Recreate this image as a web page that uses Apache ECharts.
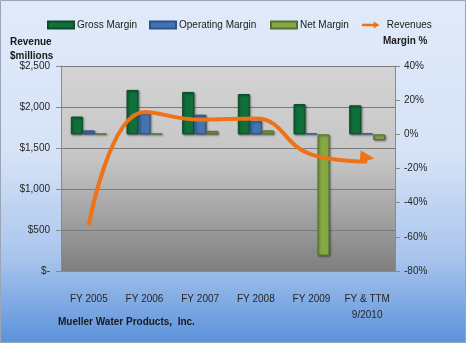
<!DOCTYPE html>
<html><head><meta charset="utf-8">
<script src="https://cdn.jsdelivr.net/npm/echarts@6/dist/echarts.min.js"></script>
<style>html,body{margin:0;padding:0;background:#fff}#c{width:466px;height:343px}</style>
</head><body><div id="c"></div>
<script>
const categories = ['FY 2005', 'FY 2006', 'FY 2007', 'FY 2008', 'FY 2009', 'FY & TTM\n9/2010'];
const grossMargin = [10.4, 26, 24.8, 23.6, 17.7, 17];
const operatingMargin = [2.3, 12.7, 11.5, 8, 0.5, 0.5];
const netMargin = [0.4, 0.4, 2, 2.3, -71, -3.3];
const revenues = [560, 1940, 1845, 1860, 1420, 1335];
const revenueTicks = { min: 0, max: 2500, interval: 500 };
const marginTicks = { min: -80, max: 40, interval: 20 };

const font = '"Liberation Sans", Arial, sans-serif';
const chart = echarts.init(document.getElementById('c'));
const last = revenues.length - 1;
const barStyle = (c, b) => ({ color: c, borderColor: b, borderWidth: 1, shadowBlur: 2, shadowColor: 'rgba(0,0,0,0.45)', shadowOffsetX: 1, shadowOffsetY: 1 });
const arrowPath = 'path://M0,4 L20,4 L20,0 L30,6 L20,12 L20,8 L0,8 Z';
const legendText = { fontSize: 10, color: '#1a1a1a', fontFamily: font, padding: [0, 0, 0, -2] };
const mkLegend = (name, left, icon, extra) => Object.assign({
  top: 15, left: left, itemWidth: 26, itemHeight: 7, textStyle: legendText, selectedMode: false,
  data: [Object.assign({ name: name, icon: icon }, extra || {})]
}, {});
chart.setOption({
  animation: false,
  backgroundColor: new echarts.graphic.LinearGradient(0, 0, 0, 1, [
    { offset: 0, color: '#e0eafa' }, { offset: 0.45, color: '#d6e3f6' },
    { offset: 0.75, color: '#a9c5ec' }, { offset: 1, color: '#5b92dc' }]),
  textStyle: { fontFamily: font },
  graphic: [
    { type: 'rect', shape: { x: 0.5, y: 0.5, width: 465, height: 342 }, style: { fill: 'none', stroke: '#9aa6b8', lineWidth: 1 }, silent: true },
    { type: 'text', left: 10, top: 35, style: { text: 'Revenue\n$millions', font: 'bold 10px ' + font, fill: '#1a1a1a', lineHeight: 14 } },
    { type: 'text', left: 383, top: 36, style: { text: 'Margin %', font: 'bold 10px ' + font, fill: '#1a1a1a' } },
    { type: 'text', left: 58, top: 317, style: { text: 'Mueller Water Products,  Inc.', font: 'bold 10px ' + font, fill: '#1a1a1a' } }
  ],
  legend: [
    mkLegend('Gross Margin', 42, 'rect'),
    mkLegend('Operating Margin', 144, 'rect'),
    mkLegend('Net Margin', 265, 'rect'),
    mkLegend('Revenues', 357, arrowPath, { itemStyle: { color: '#ee7216' } })
  ],
  grid: { left: 61, right: 71, top: 66, bottom: 72, show: true, borderWidth: 0,
    backgroundColor: new echarts.graphic.LinearGradient(0, 0, 0, 1, [
      { offset: 0, color: '#d3d3d3' }, { offset: 0.45, color: '#c6c6c6' },
      { offset: 0.75, color: '#a0a0a0' }, { offset: 1, color: '#7e7e7e' }]) },
  xAxis: {
    type: 'category', data: categories,
    axisLine: { show: true, lineStyle: { color: '#8a8a8a' } },
    axisTick: { show: false },
    axisLabel: { interval: 0, fontSize: 10, color: '#262626', margin: 20, lineHeight: 16, fontFamily: font }
  },
  yAxis: [
    { type: 'value', min: revenueTicks.min, max: revenueTicks.max, interval: revenueTicks.interval,
      axisLine: { show: true, lineStyle: { color: '#8a8a8a' } },
      axisTick: { show: true, length: 5, lineStyle: { color: '#8a8a8a' } },
      splitLine: { show: true, lineStyle: { color: '#7a7a7a', width: 1 } },
      axisLabel: { fontSize: 10, color: '#262626', margin: 11, fontFamily: font,
        formatter: v => v === 0 ? '$-' : '$' + v.toLocaleString('en-US') } },
    { type: 'value', min: marginTicks.min, max: marginTicks.max, interval: marginTicks.interval,
      axisLine: { show: true, lineStyle: { color: '#8a8a8a' } },
      axisTick: { show: true, length: 5, lineStyle: { color: '#8a8a8a' } },
      splitLine: { show: false },
      axisLabel: { fontSize: 10, color: '#262626', margin: 9, fontFamily: font, formatter: v => v + '%' } }
  ],
  series: [
    { name: 'Gross Margin', type: 'bar', yAxisIndex: 1, data: grossMargin, barWidth: 12, barGap: '0%',
      itemStyle: barStyle('#10703a', '#0a4d27'), z: 2 },
    { name: 'Operating Margin', type: 'bar', yAxisIndex: 1, data: operatingMargin, barWidth: 12, barGap: '0%',
      itemStyle: barStyle('#4473b3', '#2c5288'), z: 2 },
    { name: 'Net Margin', type: 'bar', yAxisIndex: 1, data: netMargin, barWidth: 12, barGap: '0%',
      itemStyle: barStyle('#86a845', '#55702a'), z: 2 },
    { name: 'Revenues', type: 'line', yAxisIndex: 0, data: revenues, smooth: 0.45, z: 5,
      lineStyle: { color: '#ee7216', width: 4 },
      itemStyle: { color: '#ee7216' },
      symbol: (v, p) => p.dataIndex === last ? 'triangle' : 'none',
      symbolSize: [13, 14], symbolRotate: -95, symbolOffset: [0, -4] }
  ]
});
</script></body></html>
